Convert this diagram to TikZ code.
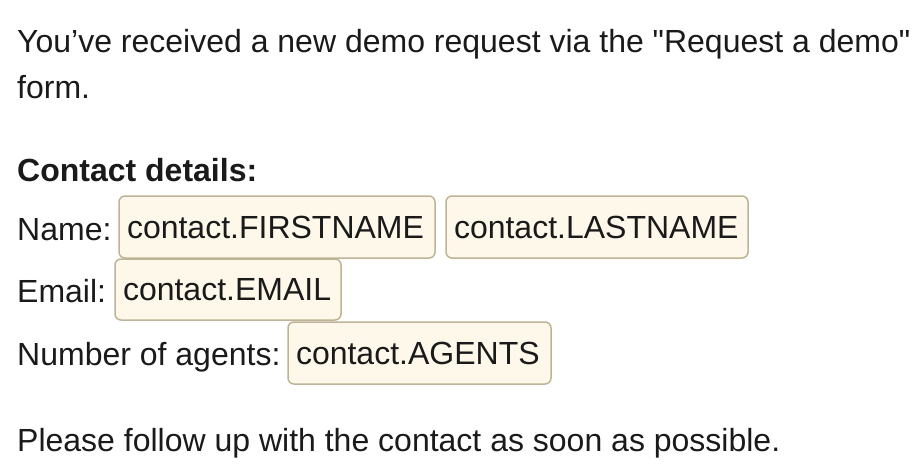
\documentclass[tikz,border=0pt]{standalone}
\usepackage{fontspec}
\defaultfontfeatures{}
\defaultfontfeatures[\rmfamily]{}
\setmainfont{Liberation Sans}
\definecolor{boxfill}{HTML}{FEF8EA}
\definecolor{boxline}{HTML}{BDB497}
\definecolor{txt}{HTML}{1A1A1A}
\begin{document}
\begin{tikzpicture}[x=1pt,y=-1pt,
  t/.style={anchor=base west,inner sep=0pt,text=txt,font=\fontsize{32}{36}\selectfont},
  tag/.style={draw=boxline,line width=1.5pt,fill=boxfill,rounded corners=6pt,text=txt,
    font=\fontsize{32}{36}\selectfont,inner xsep=8pt,inner ysep=0pt,align=left}]
\useasboundingbox (0,0) rectangle (916,476);
\node[t] (l1) at (17,53) {You’ve received a new demo request via the "Request a demo"};
\node[t] (l2) at (17,99) {form.};
\node[t] (l3) at (17,182) {\bfseries Contact details:};
\node[t] (l4) at (17,240) {Name:};
\node[tag,text width=300,minimum height=62] (fn) at (277,227) {contact.FIRSTNAME};
\node[tag,text width=286,minimum height=62] (ln) at (597,227) {contact.LASTNAME};
\node[t] (l5) at (17,302) {Email:};
\node[tag,text width=210,minimum height=61] (em) at (228,289.5) {contact.EMAIL};
\node[t] (l6) at (17,365) {Number of agents:};
\node[tag,text width=247,minimum height=62] (ag) at (419.5,353) {contact.AGENTS};
\node[t] (l7) at (17,451) {Please follow up with the contact as soon as possible.};
\end{tikzpicture}
\end{document}
